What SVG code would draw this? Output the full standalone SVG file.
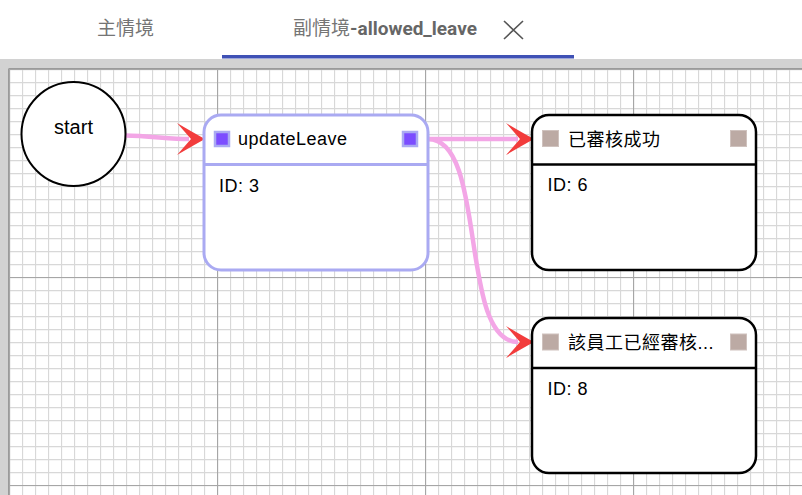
<svg xmlns="http://www.w3.org/2000/svg" width="802" height="495" viewBox="0 0 802 495">
<style>
.tab{font-family:"Noto Sans CJK TC","Roboto",sans-serif;font-size:19px;fill:#757575}
.tabb{font-family:"Roboto","Noto Sans CJK TC",sans-serif;font-weight:bold;fill:#666}
.lbl{font-family:"Liberation Sans","Noto Sans CJK TC",sans-serif;font-size:18px;fill:#000;letter-spacing:0.5px}
.nodeA{fill:#fff;stroke:#aaaaf2;stroke-width:3}
.nodeB{fill:#fff;stroke:#000;stroke-width:2.5}
.portA{fill:#7c4dff;stroke:#aaaaf2;stroke-width:2.5}
.portB{fill:#bcaaa4;stroke:#cfc2be;stroke-width:1}
.conn{fill:none;stroke:#f3a6e6;stroke-width:4.5}
</style>
<defs>
<pattern id="minor" patternUnits="userSpaceOnUse" x="9" y="69" width="13" height="13">
<path d="M0.5 0 V13 M0 0.5 H13" stroke="#d8d8d8" stroke-width="1.3" fill="none"/>
</pattern>
<pattern id="major" patternUnits="userSpaceOnUse" x="9" y="69" width="208" height="208">
<path d="M0.5 0 V208 M0 0.5 H208" stroke="#a6a6a6" stroke-width="1.2" fill="none"/>
</pattern>
<marker id="arrow" markerUnits="userSpaceOnUse" viewBox="0 0 28 32" markerWidth="28" markerHeight="32" refX="12" refY="16" orient="auto">
<path d="M0,0 Q17,10 28,16 Q17,22 0,32 L14,16 Z" fill="#f23c3c"/>
</marker>
</defs>
<rect width="802" height="495" fill="#fff"/>
<g id="tabs">
<text class="tab" x="97" y="35">主情境</text>
<text class="tab" x="293" y="35">副情境<tspan class="tabb">-allowed_leave</tspan></text>
<path d="M504,21 L523,39 M523,21 L504,39" stroke="#555" stroke-width="1.6" fill="none"/>
<rect x="222" y="55" width="352" height="3.5" fill="#3f51b5"/>
</g>
<g id="canvas">
<rect x="0" y="59" width="802" height="436" fill="#d2d2d2"/>
<rect x="8" y="68" width="794" height="427" fill="#fff"/>
<rect x="8" y="68" width="794" height="427" fill="url(#minor)"/>
<rect x="8" y="68" width="794" height="427" fill="url(#major)"/>
<path d="M8.5,495 V68.5 H802" stroke="#9a9a9a" stroke-width="1" fill="none"/>
</g>
<g id="connectors">
<path class="conn" d="M125,135.5 C150,136 170,139 189,139" marker-end="url(#arrow)"/>
<path class="conn" d="M428,139 H518" marker-end="url(#arrow)"/>
<path class="conn" d="M428,139 C488,139 458,342 518,342" marker-end="url(#arrow)"/>
</g>
<g id="node-start">
<circle cx="73.5" cy="134" r="52" fill="#fff" stroke="#000" stroke-width="2"/>
<text x="73.5" y="134" text-anchor="middle" style="font-family:'Liberation Sans',sans-serif;font-size:20px;fill:#000">start</text>
</g>
<g id="node-3">
<rect class="nodeA" x="204" y="115" width="224" height="155" rx="17"/>
<line x1="204" y1="164.5" x2="428" y2="164.5" stroke="#aaaaf2" stroke-width="3"/>
<rect class="portA" x="215" y="132" width="14" height="14"/>
<rect class="portA" x="403" y="132" width="14" height="14"/>
<text class="lbl" x="238" y="145">updateLeave</text>
<text class="lbl" x="219" y="191.5">ID: 3</text>
</g>
<g id="node-6">
<rect class="nodeB" x="532" y="115" width="224" height="155" rx="17"/>
<line x1="532" y1="164.5" x2="756" y2="164.5" stroke="#000" stroke-width="2.5"/>
<rect class="portB" x="542.5" y="130.5" width="16" height="16"/>
<rect class="portB" x="730.5" y="130.5" width="16" height="16"/>
<text class="lbl" x="568" y="146">已審核成功</text>
<text class="lbl" x="547.5" y="191">ID: 6</text>
</g>
<g id="node-8">
<rect class="nodeB" x="532" y="318" width="224" height="155" rx="17"/>
<line x1="532" y1="368" x2="756" y2="368" stroke="#000" stroke-width="2.5"/>
<rect class="portB" x="542.5" y="334" width="16" height="16"/>
<rect class="portB" x="730.5" y="334" width="16" height="16"/>
<text class="lbl" x="568" y="349">該員工已經審核...</text>
<text class="lbl" x="547.5" y="395">ID: 8</text>
</g>
</svg>
